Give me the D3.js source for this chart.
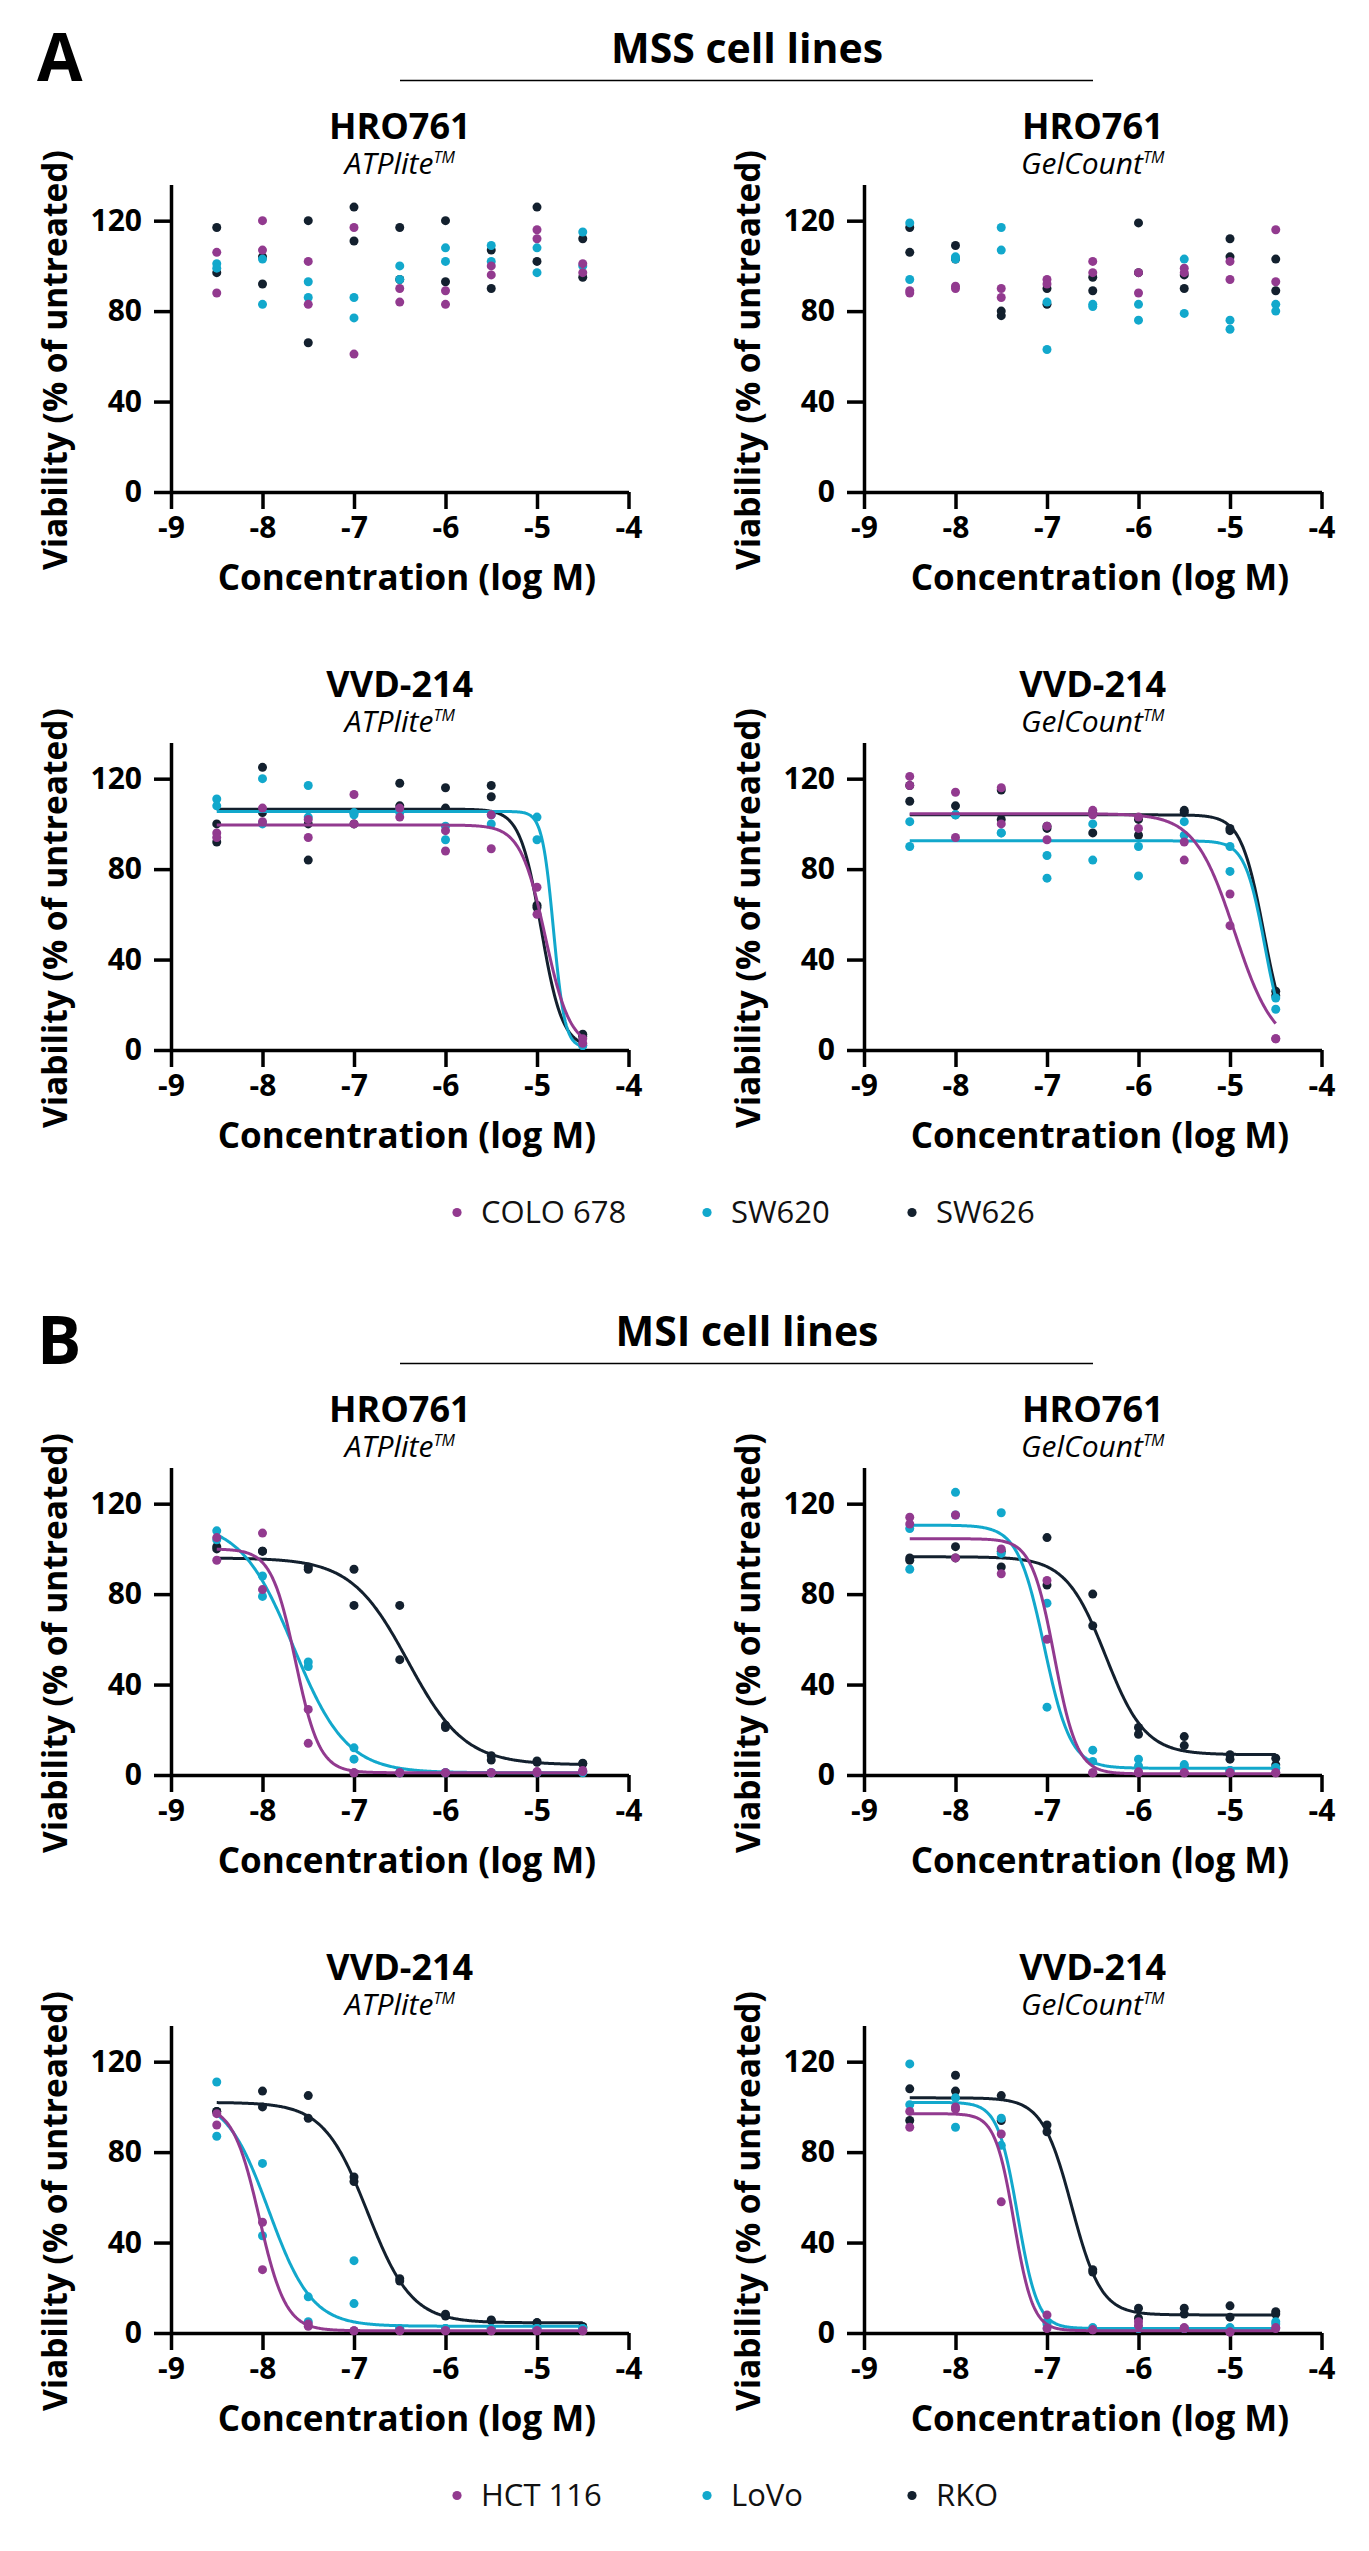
<!DOCTYPE html>
<html>
<head>
<meta charset="utf-8">
<script src="https://cdn.jsdelivr.net/npm/d3@7"></script>
<style>
  body { margin: 0; background: #fff; }
  text { font-family: "Open Sans", sans-serif; }
</style>
</head>
<body>
<div id="chart"></div>
<script>
// concentrations (log M) and axis ticks
var concs = [-8.5, -8, -7.5, -7, -6.5, -6, -5.5, -5, -4.5];
var xTicks = [-9, -8, -7, -6, -5, -4];
var yTicks = [0, 40, 80, 120];

var mssLines = ["COLO 678", "SW620", "SW626"];
var msiLines = ["HCT 116", "LoVo", "RKO"];
var lineColors = ["#923a8f", "#12a8cc", "#13202e"];

// viability (% of untreated), duplicate wells per concentration, one series per cell line
var mssHroAtp = [
    [[106, 88], [120, 107], [102, 83], [117, 61], [90, 84], [89, 83], [100, 96], [116, 112], [101, 97]],
    [[101, 99], [103, 83], [93, 86], [86, 77], [100, 94], [108, 102], [109, 102], [108, 97], [115, 100]],
    [[117, 97], [92, 104], [120, 66], [126, 111], [117, 94], [120, 93], [107, 90], [126, 102], [112, 95]]
];
var mssHroGel = [
    [[88, 89], [91, 90], [90, 86], [94, 92], [102, 97], [97, 88], [99, 97], [102, 94], [116, 93]],
    [[119, 94], [104, 103], [117, 107], [84, 63], [83, 82], [83, 76], [103, 79], [76, 72], [83, 80]],
    [[117, 106], [109, 103], [80, 78], [90, 83], [95, 89], [119, 97], [96, 90], [112, 104], [103, 89]]
];
var mssVvdAtp = [
    [[96, 94], [107, 101], [102, 94], [113, 100], [107, 103], [97, 88], [104, 89], [72, 60], [5, 3]],
    [[111, 108], [120, 100], [117, 103], [105, 104], [106, 105], [99, 93], [100, 104], [103, 93], [2, 2]],
    [[100, 92], [125, 105], [100, 84], [105, 100], [118, 108], [116, 107], [117, 112], [63, 64], [7, 6]]
];
var mssVvdGel = [
    [[121, 117], [114, 94], [116, 100], [99, 93], [106, 104], [103, 98], [92, 84], [69, 55], [5, 5]],
    [[101, 90], [104, 104], [96, 96], [86, 76], [100, 84], [90, 77], [101, 95], [90, 79], [23, 18]],
    [[117, 110], [108, 104], [115, 102], [99, 98], [105, 96], [102, 95], [106, 105], [98, 97], [26, 24]]
];
var msiHroAtp = [
    [[105, 95], [107, 82], [29, 14], [1, 1], [1, 1], [1, 1], [1, 1], [1.5, 1], [2, 1.5]],
    [[108, 104], [88, 79], [50, 48], [12, 7], [1, 1], [1, 1], [1, 1], [1, 1], [1.5, 1]],
    [[101, 100], [99, 99], [92, 91], [91, 75], [75, 51], [22, 21], [8.5, 6.6], [6.2, 5.6], [5.2, 5]]
];
var msiHroGel = [
    [[114, 111], [115, 96], [100, 89], [86, 60], [1, 1], [1.4, 1], [1, 1], [1, 1], [1, 1]],
    [[109, 91], [125, 115], [116, 98], [76, 30], [11, 6], [7, 4], [4.6, 3.9], [2, 2], [3.3, 3]],
    [[96, 95], [101, 96], [92, 99], [105, 84], [80, 66], [21, 18], [17, 13], [9, 7], [7.4, 4.5]]
];
var msiVvdAtp = [
    [[97, 92], [49, 28], [4, 3], [1, 1], [1, 1], [1, 1], [1, 1], [1, 1], [1, 1]],
    [[111, 87], [75, 43], [16, 5], [32, 13], [2, 2], [2, 2], [2, 2], [2, 2], [2, 2]],
    [[98, 98], [107, 100], [105, 95], [69, 67], [24, 23], [8.3, 7.5], [5.8, 5.5], [4.6, 4.4], [2.9, 2.5]]
];
var msiVvdGel = [
    [[98, 91], [100, 99], [88, 58], [8, 2], [1.4, 1.4], [5, 3.3], [2.4, 2], [0.4, 0.4], [2.4, 2]],
    [[119, 101], [104, 91], [95, 83], [5, 4], [2.4, 2], [2, 2], [2, 2], [2.4, 2], [5, 4]],
    [[108, 94], [114, 107], [105, 94], [92, 89], [28, 27], [11, 6.5], [11, 8.4], [12, 7], [9.4, 8.4]]
];

// 4-parameter fits per cell line: [top, bottom, logIC50, hill slope]
var mssVvdAtpFit = [[99.5, 1, -4.91, 3.2], [105.5, 1, -4.82, 7], [106.5, 1, -4.955, 3.76]];
var mssVvdGelFit = [[104.5, 0, -4.95, 2], [92.5, 0, -4.62, 4], [104, 0, -4.63, 3.5]];
var msiHroAtpFit = [[100, 1, -7.64, 3.3], [112, 1, -7.66, 1.5], [96, 4.5, -6.41, 1.4]];
var msiHroGelFit = [[104.5, 0.5, -6.92, 3.5], [110.5, 3, -7.03, 3], [96.5, 9, -6.36, 2]];
var msiVvdAtpFit = [[101, 1, -8.035, 3], [105, 3, -7.93, 1.85], [102, 4.5, -6.85, 1.8]];
var msiVvdGelFit = [[97, 1, -7.36, 4.2], [102, 2, -7.32, 4], [104, 8, -6.73, 2.7]];

var width = 1369, height = 2551;
var colX = [171, 864];
var rowZero = [492, 1050];
var sectionShift = 1283;
var plotW = 457.5, plotH = 307.5;

var sections = [
    { letter: "A", title: "MSS cell lines", lines: mssLines },
    { letter: "B", title: "MSI cell lines", lines: msiLines }
];

var panels = [
    { sec: 0, row: 0, col: 0, title: "HRO761", assay: "ATPlite", pts: mssHroAtp, fit: null },
    { sec: 0, row: 0, col: 1, title: "HRO761", assay: "GelCount", pts: mssHroGel, fit: null },
    { sec: 0, row: 1, col: 0, title: "VVD-214", assay: "ATPlite", pts: mssVvdAtp, fit: mssVvdAtpFit },
    { sec: 0, row: 1, col: 1, title: "VVD-214", assay: "GelCount", pts: mssVvdGel, fit: mssVvdGelFit },
    { sec: 1, row: 0, col: 0, title: "HRO761", assay: "ATPlite", pts: msiHroAtp, fit: msiHroAtpFit },
    { sec: 1, row: 0, col: 1, title: "HRO761", assay: "GelCount", pts: msiHroGel, fit: msiHroGelFit },
    { sec: 1, row: 1, col: 0, title: "VVD-214", assay: "ATPlite", pts: msiVvdAtp, fit: msiVvdAtpFit },
    { sec: 1, row: 1, col: 1, title: "VVD-214", assay: "GelCount", pts: msiVvdGel, fit: msiVvdGelFit }
];

var svg = d3.select("#chart")
    .append("svg")
    .attr("width", width)
    .attr("height", height)
    .style("display", "block");

svg.append("rect").attr("width", width).attr("height", height).attr("fill", "#fff");

var x = d3.scaleLinear().domain([-9, -4]).range([0, plotW]);
var y = d3.scaleLinear().domain([0, 136]).range([plotH, 0]);

function logistic(p, c) {
    return p[1] + (p[0] - p[1]) / (1 + Math.pow(10, (c - p[2]) * p[3]));
}

var curveXs = d3.range(-8.5, -4.5 + 1e-9, 0.01);
var line = d3.line()
    .x(function (d) { return x(d[0]); })
    .y(function (d) { return y(d[1]); });

// section headers and legends
sections.forEach(function (s, si) {
    var off = si * sectionShift;
    svg.append("text")
        .attr("x", 37)
        .attr("y", 81 + off)
        .attr("font-size", 66)
        .attr("font-weight", 700)
        .text(s.letter);

    svg.append("text")
        .attr("x", 747)
        .attr("y", 63 + off)
        .attr("text-anchor", "middle")
        .attr("font-size", 41)
        .attr("font-weight", 700)
        .text(s.title);

    svg.append("line")
        .attr("x1", 400).attr("x2", 1093)
        .attr("y1", 80.5 + off).attr("y2", 80.5 + off)
        .attr("stroke", "#000")
        .attr("stroke-width", 1.6);

    var legendX = [457, 707, 912];
    s.lines.forEach(function (name, i) {
        svg.append("circle")
            .attr("cx", legendX[i])
            .attr("cy", 1212.5 + off)
            .attr("r", 4.6)
            .attr("fill", lineColors[i]);
        svg.append("text")
            .attr("x", legendX[i] + 24)
            .attr("y", 1222.5 + off)
            .attr("font-size", 31)
            .attr("fill", "#111")
            .text(name);
    });
});

panels.forEach(function (p) {
    var zero = rowZero[p.row] + p.sec * sectionShift;
    var g = svg.append("g")
        .attr("transform", "translate(" + colX[p.col] + "," + (zero - plotH) + ")");

    // titles
    g.append("text")
        .attr("x", plotW / 2)
        .attr("y", plotH - 353)
        .attr("text-anchor", "middle")
        .attr("font-size", 36)
        .attr("font-weight", 700)
        .text(p.title);

    var sub = g.append("text")
        .attr("x", plotW / 2)
        .attr("y", plotH - 318)
        .attr("text-anchor", "middle")
        .attr("font-style", "italic")
        .attr("font-size", 30);
    sub.append("tspan").text(p.assay);
    sub.append("tspan").attr("font-size", 16).attr("dy", -11).text("TM");

    // axes
    var xAxis = g.append("g")
        .attr("transform", "translate(0," + plotH + ")")
        .call(d3.axisBottom(x).tickValues(xTicks).tickSize(17).tickSizeOuter(0).tickPadding(8)
            .tickFormat(function (d) { return String(d); }));
    var yAxis = g.append("g")
        .call(d3.axisLeft(y).tickValues(yTicks).tickSize(17).tickSizeOuter(0).tickPadding(12));

    [xAxis, yAxis].forEach(function (a) {
        a.attr("font-family", "'Open Sans', sans-serif")
            .attr("font-size", 30)
            .attr("font-weight", 700);
        a.selectAll("path, line").attr("stroke", "#000").attr("stroke-width", 3.5);
        a.selectAll("text").attr("fill", "#000");
    });

    g.append("text")
        .attr("x", 236)
        .attr("y", plotH + 97.5)
        .attr("text-anchor", "middle")
        .attr("font-size", 35)
        .attr("font-weight", 700)
        .text("Concentration (log M)");

    g.append("text")
        .attr("transform", "translate(-104," + (plotH - 132) + ") rotate(-90)")
        .attr("text-anchor", "middle")
        .attr("font-size", 33.5)
        .attr("font-weight", 700)
        .text("Viability (% of untreated)");

    // dots and fitted curves, drawn dark first so magenta sits on top
    [2, 1, 0].forEach(function (si) {
        var pts = [];
        p.pts[si].forEach(function (reps, ci) {
            reps.forEach(function (v) { pts.push([concs[ci], v]); });
        });
        g.append("g")
            .selectAll("circle")
            .data(pts)
            .enter()
            .append("circle")
            .attr("cx", function (d) { return x(d[0]); })
            .attr("cy", function (d) { return y(d[1]); })
            .attr("r", 4.5)
            .attr("fill", lineColors[si]);

        if (p.fit) {
            var f = p.fit[si];
            g.append("path")
                .datum(curveXs.map(function (c) { return [c, logistic(f, c)]; }))
                .attr("d", line)
                .attr("fill", "none")
                .attr("stroke", lineColors[si])
                .attr("stroke-width", 3);
        }
    });
});
</script>
</body>
</html>
